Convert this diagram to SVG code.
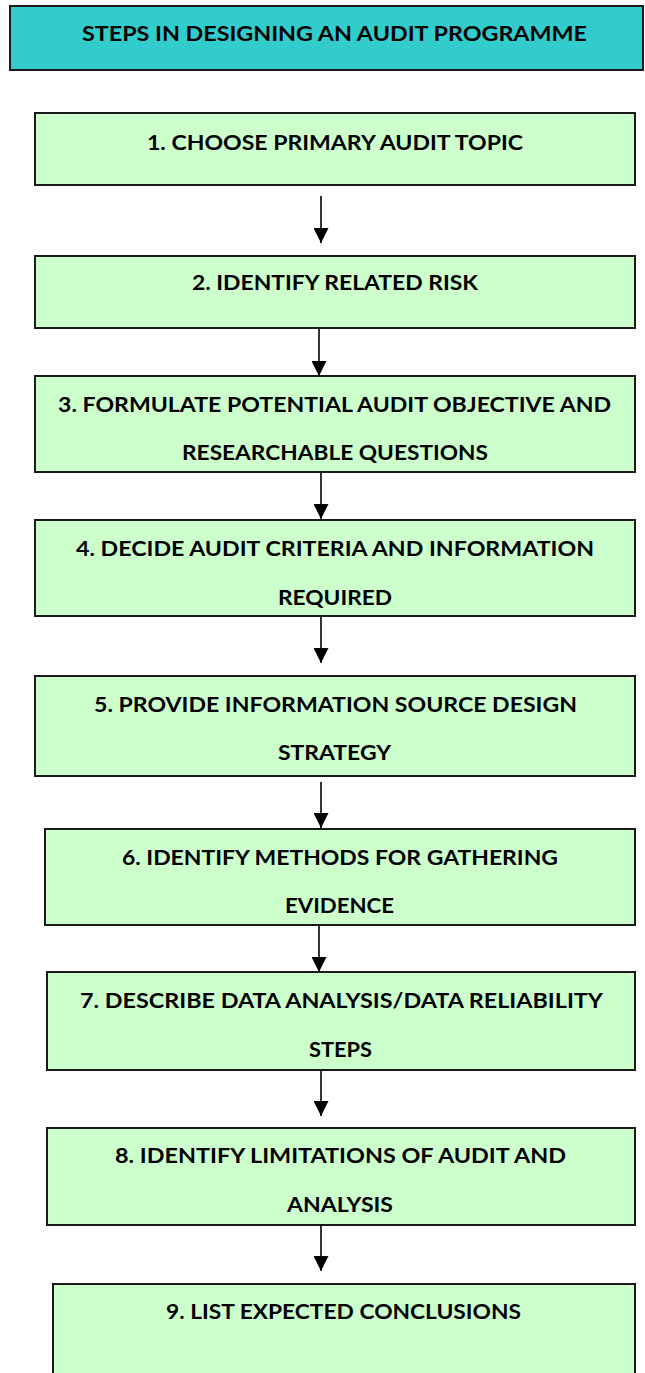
<svg xmlns="http://www.w3.org/2000/svg" width="645" height="1373" viewBox="0 0 645 1373">
  <style>
    .title { fill: #33CCCC; stroke: #1a1a1a; stroke-width: 2; }
    .box { fill: #CCFFCC; stroke: #1a1a1a; stroke-width: 2; }
    .lbl { font-family: Lato, "Liberation Sans", Arial, sans-serif; font-weight: bold; font-size: 21px; fill: #000; text-anchor: middle; }
    .conn { stroke: #000; stroke-width: 1.6; fill: none; marker-end: url(#head); }
  </style>
  <defs>
    <marker id="head" viewBox="0 0 15 15" refX="15" refY="7.5" markerWidth="15" markerHeight="15" markerUnits="userSpaceOnUse" orient="auto">
      <path d="M0,0 L15,7.5 L0,15 Z" fill="#000"/>
    </marker>
  </defs>
  <rect width="645" height="1373" fill="#fff"/>

  <g id="title">
    <rect class="title" x="10" y="6" width="633" height="64"/>
    <text class="lbl" x="334.5" y="41" textLength="505" lengthAdjust="spacingAndGlyphs">STEPS IN DESIGNING AN AUDIT PROGRAMME</text>
  </g>

  <g id="step1">
    <rect class="box" x="35" y="113" width="600" height="72"/>
    <text class="lbl" x="335" y="149.5" textLength="376" lengthAdjust="spacingAndGlyphs">1. CHOOSE PRIMARY AUDIT TOPIC</text>
  </g>

  <g id="step2">
    <rect class="box" x="35" y="256" width="600" height="72"/>
    <text class="lbl" x="335" y="290" textLength="286" lengthAdjust="spacingAndGlyphs">2. IDENTIFY RELATED RISK</text>
  </g>

  <g id="step3">
    <rect class="box" x="35" y="376" width="600" height="96"/>
    <text class="lbl" x="334.5" y="412" textLength="553" lengthAdjust="spacingAndGlyphs">3. FORMULATE POTENTIAL AUDIT OBJECTIVE AND</text>
    <text class="lbl" x="335" y="460" textLength="306" lengthAdjust="spacingAndGlyphs">RESEARCHABLE QUESTIONS</text>
  </g>

  <g id="step4">
    <rect class="box" x="35" y="520" width="600" height="96"/>
    <text class="lbl" x="335" y="556" textLength="518" lengthAdjust="spacingAndGlyphs">4. DECIDE AUDIT CRITERIA AND INFORMATION</text>
    <text class="lbl" x="335" y="605" textLength="114" lengthAdjust="spacingAndGlyphs">REQUIRED</text>
  </g>

  <g id="step5">
    <rect class="box" x="35" y="676" width="600" height="100"/>
    <text class="lbl" x="335.5" y="712" textLength="483" lengthAdjust="spacingAndGlyphs">5. PROVIDE INFORMATION SOURCE DESIGN</text>
    <text class="lbl" x="334.5" y="760" textLength="113" lengthAdjust="spacingAndGlyphs">STRATEGY</text>
  </g>

  <g id="step6">
    <rect class="box" x="45" y="829" width="590" height="96"/>
    <text class="lbl" x="340" y="865" textLength="436" lengthAdjust="spacingAndGlyphs">6. IDENTIFY METHODS FOR GATHERING</text>
    <text class="lbl" x="339.5" y="913" textLength="109" lengthAdjust="spacingAndGlyphs">EVIDENCE</text>
  </g>

  <g id="step7">
    <rect class="box" x="47" y="972" width="588" height="98"/>
    <text class="lbl" x="341.5" y="1008" textLength="523" lengthAdjust="spacingAndGlyphs">7. DESCRIBE DATA ANALYSIS/DATA RELIABILITY</text>
    <text class="lbl" x="340.5" y="1057" textLength="63" lengthAdjust="spacingAndGlyphs">STEPS</text>
  </g>

  <g id="step8">
    <rect class="box" x="47" y="1128" width="588" height="97"/>
    <text class="lbl" x="340.5" y="1163" textLength="451" lengthAdjust="spacingAndGlyphs">8. IDENTIFY LIMITATIONS OF AUDIT AND</text>
    <text class="lbl" x="340" y="1212" textLength="106" lengthAdjust="spacingAndGlyphs">ANALYSIS</text>
  </g>

  <g id="step9">
    <rect class="box" x="53" y="1284" width="582" height="100"/>
    <text class="lbl" x="343.5" y="1319" textLength="355" lengthAdjust="spacingAndGlyphs">9. LIST EXPECTED CONCLUSIONS</text>
  </g>

  <g id="connectors">
    <line class="conn" x1="321" y1="196" x2="321" y2="243"/>
    <line class="conn" x1="319" y1="328" x2="319" y2="376"/>
    <line class="conn" x1="321" y1="472" x2="321" y2="519"/>
    <line class="conn" x1="321" y1="616" x2="321" y2="663"/>
    <line class="conn" x1="321" y1="782" x2="321" y2="828"/>
    <line class="conn" x1="319" y1="925" x2="319" y2="972"/>
    <line class="conn" x1="321" y1="1070" x2="321" y2="1116"/>
    <line class="conn" x1="321" y1="1225" x2="321" y2="1271"/>
  </g>
</svg>
